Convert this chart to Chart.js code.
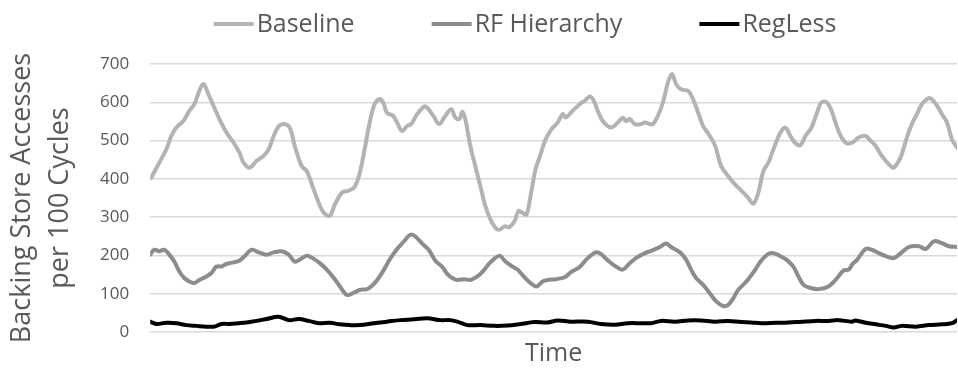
<!DOCTYPE html>
<html>
<head>
<meta charset="utf-8">
<script src="https://cdn.jsdelivr.net/npm/chart.js@4.4.1/dist/chart.umd.min.js"></script>
<style>
  html, body { margin: 0; padding: 0; background: #ffffff; }
  #wrap { width: 958px; height: 373px; position: relative; }
</style>
</head>
<body>
<div id="wrap"><canvas id="chart" width="958" height="373"></canvas></div>
<script>
// Series names and colours
const seriesNames = ['Baseline', 'RF Hierarchy', 'RegLess'];
const seriesColors = ['#b3b3b3', '#8c8c8c', '#000000'];

// Y axis ticks
const yTicks = [0, 100, 200, 300, 400, 500, 600, 700];

// Sample times (arbitrary time units) and accesses per 100 cycles
const baselineTime = [1, 9, 16, 21, 26, 33, 39, 44, 49, 53, 58, 63, 69, 76, 83, 89, 93, 98, 101, 106, 113, 118, 123, 128, 133, 139, 144, 151, 156, 163, 168, 173, 179, 184, 191, 196, 203, 208, 213, 218, 223, 228, 232, 236, 242, 246, 251, 256, 260, 266, 273, 276, 282, 288, 293, 300, 304, 308, 311, 314, 319, 324, 329, 334, 339, 344, 348, 353, 358, 363, 367, 371, 375, 379, 384, 389, 394, 400, 406, 411, 414, 421, 428, 433, 438, 442, 446, 451, 459, 466, 471, 474, 478, 483, 489, 493, 498, 501, 506, 511, 516, 520, 524, 529, 536, 541, 546, 551, 556, 563, 569, 576, 583, 588, 593, 596, 601, 606, 611, 616, 621, 628, 633, 638, 643, 648, 653, 659, 664, 669, 674, 679, 684, 689, 694, 700, 706, 713, 718, 723, 728, 733, 738, 741, 746, 749, 754, 759, 764, 769, 775, 779, 784, 789, 794, 799, 804];
const baselineValues = [403, 442, 477, 512, 534, 551, 578, 595, 630, 648, 621, 591, 556, 521, 495, 468, 442, 429, 432, 447, 460, 477, 512, 537, 543, 534, 486, 433, 420, 372, 337, 311, 304, 333, 364, 368, 377, 407, 468, 538, 591, 608, 600, 572, 565, 547, 525, 538, 543, 569, 589, 586, 565, 543, 560, 582, 560, 556, 575, 556, 486, 433, 381, 329, 294, 272, 267, 276, 274, 289, 316, 311, 307, 355, 425, 464, 503, 530, 547, 569, 560, 578, 595, 604, 615, 604, 578, 551, 534, 547, 560, 551, 556, 543, 543, 547, 543, 543, 565, 600, 652, 674, 648, 634, 630, 608, 573, 538, 519, 486, 433, 407, 385, 372, 359, 350, 335, 364, 420, 442, 477, 521, 534, 512, 493, 488, 512, 534, 569, 600, 600, 578, 538, 508, 493, 495, 508, 512, 499, 486, 464, 447, 433, 429, 447, 464, 508, 543, 569, 595, 610, 608, 591, 569, 547, 503, 482];

const rfTime = [0, 4, 9, 14, 19, 24, 29, 34, 39, 44, 49, 56, 61, 66, 71, 76, 83, 89, 94, 101, 108, 116, 123, 131, 138, 144, 149, 156, 163, 169, 176, 183, 189, 196, 203, 209, 216, 221, 226, 233, 239, 246, 253, 259, 264, 271, 278, 284, 291, 296, 301, 306, 313, 319, 326, 333, 339, 348, 354, 361, 366, 373, 379, 385, 391, 396, 404, 413, 419, 428, 436, 444, 449, 456, 464, 471, 478, 484, 493, 499, 508, 514, 519, 528, 534, 539, 544, 551, 558, 564, 571, 576, 581, 586, 593, 596, 600, 603, 609, 616, 621, 628, 634, 641, 646, 651, 658, 666, 676, 683, 691, 696, 700, 704, 713, 719, 726, 733, 741, 748, 756, 766, 773, 781, 789, 796, 804];
const rfValues = [202, 215, 211, 215, 202, 184, 158, 141, 132, 128, 136, 145, 154, 171, 171, 178, 182, 187, 198, 215, 208, 202, 208, 211, 202, 184, 189, 199, 191, 180, 163, 141, 119, 97, 103, 110, 112, 121, 135, 163, 191, 217, 237, 254, 250, 231, 213, 187, 170, 152, 141, 136, 138, 136, 145, 163, 182, 199, 184, 171, 163, 143, 128, 119, 132, 136, 138, 143, 156, 170, 193, 208, 204, 187, 171, 163, 180, 193, 206, 212, 222, 231, 222, 208, 189, 163, 141, 123, 100, 80, 68, 71, 88, 110, 129, 138, 152, 163, 187, 204, 206, 198, 189, 170, 145, 123, 115, 112, 119, 136, 161, 163, 178, 187, 217, 215, 206, 198, 193, 206, 222, 224, 217, 237, 232, 224, 222];

const reglessTime = [0, 6, 16, 26, 36, 46, 56, 64, 71, 79, 88, 96, 106, 116, 128, 138, 148, 158, 168, 179, 189, 199, 209, 223, 236, 249, 263, 276, 289, 299, 306, 316, 329, 343, 356, 369, 383, 396, 406, 419, 436, 449, 463, 476, 489, 499, 509, 523, 536, 549, 563, 576, 589, 599, 609, 623, 636, 649, 663, 676, 686, 699, 703, 713, 723, 733, 741, 749, 763, 776, 789, 799, 804];
const reglessValues = [27, 21, 24, 23, 18, 16, 14, 14, 21, 21, 23, 25, 29, 34, 40, 31, 34, 29, 23, 24, 20, 18, 18, 23, 27, 31, 33, 36, 31, 31, 27, 18, 18, 16, 17, 21, 26, 25, 30, 27, 27, 21, 19, 23, 23, 23, 29, 27, 30, 30, 27, 29, 26, 25, 23, 24, 25, 27, 29, 29, 31, 27, 30, 24, 20, 16, 12, 16, 14, 18, 20, 23, 31];

const timeSets = [baselineTime, rfTime, reglessTime];
const valueSets = [baselineValues, rfValues, reglessValues];

const FONT = "'Open Sans', 'Liberation Sans', sans-serif";
const TEXT = '#595959';

const datasets = seriesNames.map((name, i) => ({
  label: name,
  data: timeSets[i].map((t, k) => ({ x: t, y: valueSets[i][k] })),
  borderColor: seriesColors[i],
  backgroundColor: seriesColors[i],
  borderWidth: 4,
  pointRadius: 0,
  tension: 0.35,
  fill: false,
  borderCapStyle: 'round',
  borderJoinStyle: 'round'
}));

// Legend drawn across the top: short line sample followed by the name
const topLegend = {
  id: 'topLegend',
  afterDraw(chart) {
    const ctx = chart.ctx;
    ctx.save();
    ctx.font = '25px ' + FONT;
    ctx.textBaseline = 'middle';
    const lineLen = 40, textGap = 3, itemGap = 77;
    const items = chart.data.datasets.map(ds => ({ label: ds.label, color: ds.borderColor, w: ctx.measureText(ds.label).width }));
    const total = items.reduce((s, it) => s + lineLen + textGap + it.w, 0) + itemGap * (items.length - 1);
    let x = 525 - total / 2;
    const y = 24;
    items.forEach(it => {
      ctx.strokeStyle = it.color;
      ctx.lineWidth = 4;
      ctx.beginPath();
      ctx.moveTo(x, y);
      ctx.lineTo(x + lineLen, y);
      ctx.stroke();
      ctx.fillStyle = TEXT;
      ctx.fillText(it.label, x + lineLen + textGap, y + 1);
      x += lineLen + textGap + it.w + itemGap;
    });
    ctx.restore();
  }
};

new Chart(document.getElementById('chart'), {
  type: 'line',
  data: { datasets },
  options: {
    responsive: false,
    animation: false,
    layout: { padding: { top: 64, right: 1, left: 4, bottom: 4 } },
    plugins: { legend: { display: false }, tooltip: { enabled: false } },
    scales: {
      x: {
        type: 'linear',
        min: 0,
        max: 804,
        grid: { display: false, drawTicks: false },
        border: { display: false },
        ticks: { display: false },
        title: { display: true, text: 'Time', color: TEXT, font: { family: FONT, size: 25 }, padding: { top: 7, bottom: 0 } }
      },
      y: {
        min: 0,
        max: 700,
        afterBuildTicks(scale) { scale.ticks = yTicks.map(v => ({ value: v })); },
        grid: { color: '#d9d9d9', lineWidth: 1.5, drawTicks: false },
        border: { display: false },
        ticks: { color: TEXT, font: { family: FONT, size: 17 }, padding: 21 },
        title: {
          display: true,
          text: ['Backing Store Accesses', 'per 100 Cycles'],
          color: TEXT,
          font: { family: FONT, size: 27, lineHeight: 1.39 },
          padding: { top: 0, bottom: 0 }
        }
      }
    }
  },
  plugins: [topLegend]
});
</script>
</body>
</html>
